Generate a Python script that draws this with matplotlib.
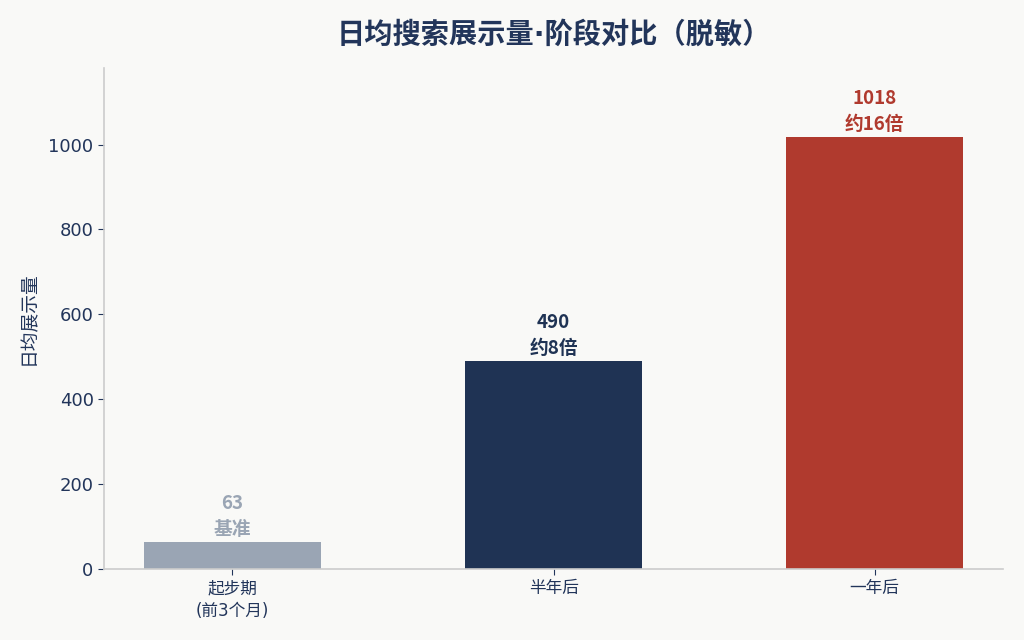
import matplotlib
matplotlib.use("Agg")
import matplotlib.pyplot as plt

plt.rcParams['font.family'] = ['DejaVu Sans', 'Noto Sans CJK SC']
CJK = ['Noto Sans CJK SC', 'DejaVu Sans']

categories = ["起步期\n(前3个月)", "半年后", "一年后"]
values = [63, 490, 1018]
notes = ["基准", "约8倍", "约16倍"]
colors = ["#9aa5b4", "#1f3354", "#b03a2e"]

bg = "#f9f9f7"
ink = "#22355a"

fig = plt.figure(figsize=(10.24, 6.4), dpi=100, facecolor=bg)
ax = fig.add_axes([0.1016, 0.111, 0.878, 0.783], facecolor=bg)

x = list(range(len(categories)))
ax.bar(x, values, width=0.55, color=colors, zorder=2)
for xi, v, n, c in zip(x, values, notes, colors):
    ax.annotate(f"{v}\n{n}", (xi, v), xytext=(0, 2), textcoords="offset points",
                ha="center", va="bottom", fontsize=13.5, fontweight="bold",
                color=c, linespacing=1.5, family=CJK)

ax.set_xlim(-0.4, 2.4)
ax.set_ylim(0, max(values) * 1.16)
ax.set_xticks(x)
ax.set_xticklabels(categories, linespacing=1.3)
ax.set_yticks([0, 200, 400, 600, 800, 1000])
ax.tick_params(colors=ink, color=ink, length=4)
ax.tick_params(axis='x', labelsize=12)
ax.tick_params(axis='y', labelsize=13)
for s in ["top", "right"]:
    ax.spines[s].set_visible(False)
for s in ["left", "bottom"]:
    ax.spines[s].set_color("#cccccc")
    ax.spines[s].set_linewidth(1.2)
ax.set_ylabel("日均展示量", fontsize=13.5, color=ink, labelpad=7, family=CJK)
ax.set_title("日均搜索展示量·阶段对比（脱敏）", fontsize=20.3, fontweight="bold",
             color=ink, pad=18)

fig.savefig("out.png", dpi=100, facecolor=bg)
